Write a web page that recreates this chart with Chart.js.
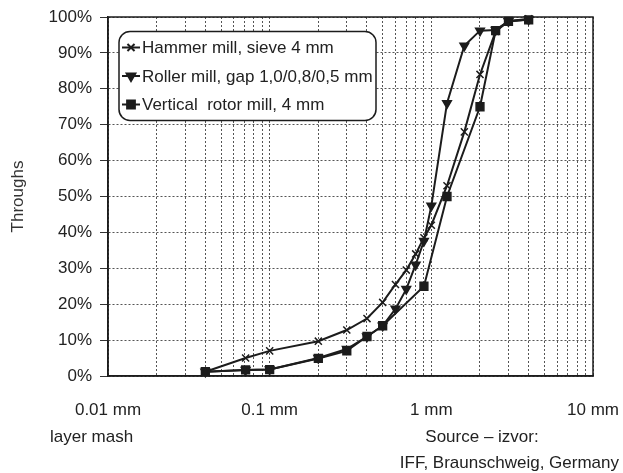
<!DOCTYPE html>
<html><head><meta charset="utf-8">
<script src="https://cdn.jsdelivr.net/npm/chart.js@4/dist/chart.umd.min.js"></script>
<style>html,body{margin:0;padding:0;background:#fff}#wrap{width:623px;height:473px;position:relative}</style>
</head><body><div id="wrap"><canvas id="c" width="623" height="473"></canvas></div>
<script>
// ---- data ----
const seriesNames = ['Hammer mill, sieve 4 mm', 'Roller mill, gap 1,0/0,8/0,5 mm', 'Vertical  rotor mill, 4 mm'];

const hammerSize = [0.04, 0.071, 0.1, 0.2, 0.3, 0.4, 0.5, 0.6, 0.7, 0.8, 0.9, 1.0, 1.25, 1.6, 2.0, 2.5, 3.0, 4.0];
const hammerPass = [1.2, 5, 7, 9.7, 12.8, 16, 20.5, 25.5, 29.5, 34, 38.5, 42, 53, 68, 84, 96, 98.8, 99.5];

const rollerSize = [0.04, 0.071, 0.1, 0.2, 0.3, 0.4, 0.5, 0.6, 0.7, 0.8, 0.9, 1.0, 1.25, 1.6, 2.0, 2.5, 3.0, 4.0];
const rollerPass = [1.2, 1.7, 1.8, 5, 7.5, 11, 14, 18.7, 24.2, 31, 37.6, 47.4, 76, 92, 96.2, 96.4, 98.8, 99.3];

const rotorSize = [0.04, 0.071, 0.1, 0.2, 0.3, 0.4, 0.5, 0.9, 1.25, 2.0, 2.5, 3.0, 4.0];
const rotorPass = [1.2, 1.7, 1.8, 4.9, 7, 11, 14, 25, 50, 75, 96.2, 98.8, 99.2];

const xGridValues = [0.01,0.02,0.03,0.04,0.05,0.06,0.07,0.08,0.09,
                     0.1,0.2,0.3,0.4,0.5,0.6,0.7,0.8,0.9,
                     1,2,3,4,5,6,7,8,9,10];
const xMajorValues = [0.01, 0.1, 1, 10];
const xMajorLabels = ['0.01 mm', '0.1 mm', '1 mm', '10 mm'];
const yTickValues = [0,10,20,30,40,50,60,70,80,90,100];
const yTitle = 'Throughs';
const noteLeft = 'layer mash';
const noteSource = 'Source \u2013 izvor:';
const noteSourceName = 'IFF, Braunschweig, Germany';

// ---- chart ----
const INK = '#1c1c1c';
const FONT = "'Liberation Sans', Arial, sans-serif";
const toXY = (xs, ys) => xs.map((x, i) => ({x: x, y: ys[i]}));

const styles = [
  {pointStyle: 'crossRot', rotation: 0, radius: 5},
  {pointStyle: 'triangle', rotation: 180, radius: 5},
  {pointStyle: 'rect', rotation: 0, radius: 5.5}
];
const seriesData = [toXY(hammerSize, hammerPass), toXY(rollerSize, rollerPass), toXY(rotorSize, rotorPass)];

const datasets = seriesData.map((d, i) => ({
  label: seriesNames[i],
  data: d,
  showLine: true,
  borderColor: INK,
  backgroundColor: INK,
  borderWidth: 2,
  tension: 0,
  pointStyle: styles[i].pointStyle,
  rotation: styles[i].rotation,
  pointRadius: styles[i].radius,
  pointBorderWidth: 1.5,
  pointBorderColor: INK,
  pointBackgroundColor: INK,
  clip: false
}));

function drawMarker(ctx, st, x, y) {
  if (Chart.helpers && Chart.helpers.drawPoint) {
    Chart.helpers.drawPoint(ctx, {pointStyle: st.pointStyle, rotation: st.rotation, radius: st.radius, borderWidth: 1.5}, x, y);
  }
}

const extras = {
  id: 'extras',
  beforeDatasetsDraw(chart) {
    const {ctx, chartArea: a} = chart;
    ctx.save();
    ctx.strokeStyle = INK;
    ctx.lineWidth = 1.5;
    ctx.strokeRect(a.left, a.top, a.right - a.left, a.bottom - a.top);
    ctx.restore();
  },
  afterDatasetsDraw(chart) {
    const {ctx, chartArea: a} = chart;
    ctx.save();
    const lx = a.left + 11, ly = a.top + 14.5, lw = 257, lh = 89;
    ctx.beginPath();
    if (ctx.roundRect) ctx.roundRect(lx, ly, lw, lh, 11); else ctx.rect(lx, ly, lw, lh);
    ctx.fillStyle = '#fff';
    ctx.fill();
    ctx.lineWidth = 1.5;
    ctx.strokeStyle = INK;
    ctx.stroke();
    ctx.font = '17px ' + FONT;
    ctx.textBaseline = 'middle';
    ctx.textAlign = 'left';
    chart.data.datasets.forEach((ds, i) => {
      const y = ly + 16 + i * 28.5;
      ctx.strokeStyle = INK; ctx.fillStyle = INK; ctx.lineWidth = 2;
      ctx.beginPath(); ctx.moveTo(lx + 3, y); ctx.lineTo(lx + 21, y); ctx.stroke();
      drawMarker(ctx, styles[i], lx + 12, y);
      ctx.fillStyle = '#222';
      ctx.fillText(ds.label, lx + 23, y + 1);
    });
    ctx.restore();
  },
  afterDraw(chart) {
    const {ctx} = chart;
    ctx.save();
    ctx.fillStyle = '#222';
    ctx.font = '17px ' + FONT;
    ctx.textBaseline = 'middle';
    ctx.textAlign = 'left';
    ctx.fillText(noteLeft, 50, 437);
    ctx.textAlign = 'center';
    ctx.fillText(noteSource, 482, 437);
    ctx.textAlign = 'right';
    ctx.fillText(noteSourceName, 619, 463);
    ctx.restore();
  }
};

new Chart(document.getElementById('c'), {
  type: 'scatter',
  data: {datasets: datasets},
  plugins: [extras],
  options: {
    responsive: false,
    devicePixelRatio: 1,
    animation: false,
    layout: {padding: {top: 17, right: 30, left: 0, bottom: 0}},
    plugins: {legend: {display: false}, tooltip: {enabled: false}},
    scales: {
      x: {
        type: 'logarithmic',
        min: 0.01, max: 10,
        afterBuildTicks: s => { s.ticks = xGridValues.map(v => ({value: v})); },
        afterFit: s => { s.height = 97; },
        ticks: {
          autoSkip: false, maxRotation: 0, minRotation: 0, padding: 0,
          color: '#222', font: {size: 17, family: FONT},
          callback: function(v) {
            const k = xMajorValues.findIndex(m => Math.abs(Math.log10(m) - Math.log10(v)) < 1e-6);
            return k >= 0 ? xMajorLabels[k] : '';
          }
        },
        grid: {color: '#555', lineWidth: 1, drawTicks: true, tickLength: 24, tickColor: 'rgba(0,0,0,0)'},
        border: {display: true, color: INK, width: 1.5, dash: [2, 2]}
      },
      y: {
        type: 'linear',
        min: 0, max: 100,
        afterBuildTicks: s => { s.ticks = yTickValues.map(v => ({value: v})); },
        afterFit: s => { s.width = 108; },
        ticks: {
          padding: 8, color: '#222', font: {size: 17, family: FONT, lineHeight: 1},
          callback: v => v + '%'
        },
        grid: {color: '#555', lineWidth: 1, drawTicks: true, tickLength: 8, tickColor: '#333', tickBorderDash: []},
        border: {display: true, color: INK, width: 1.5, dash: [2, 2]},
        title: {display: true, text: yTitle, color: '#333', font: {size: 17, family: FONT}, padding: {top: 8, bottom: 0}}
      }
    }
  }
});
</script>
</body></html>
